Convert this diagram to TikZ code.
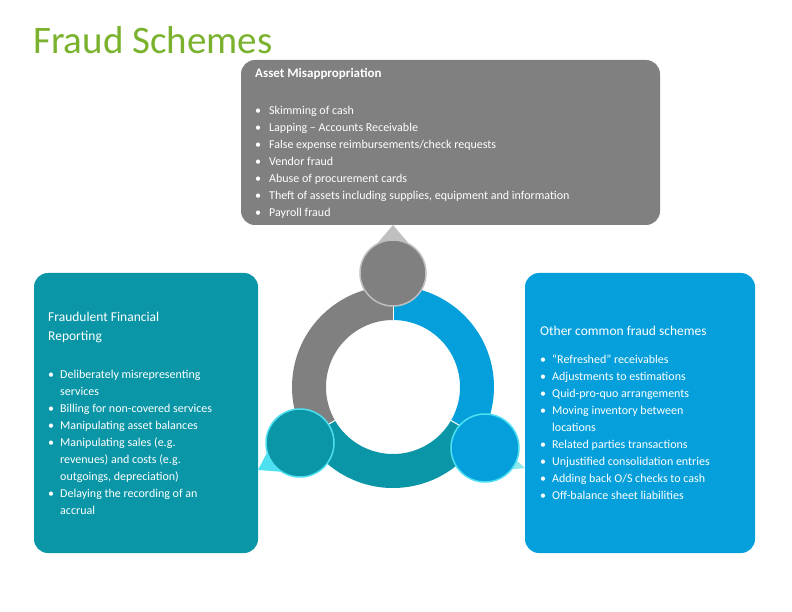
\documentclass[tikz,border=0pt]{standalone}
\usepackage{fontspec}
\setmainfont{Carlito}
\definecolor{cgray}{HTML}{808080}
\definecolor{lgray}{HTML}{BFBFBF}
\definecolor{cteal}{HTML}{0A96A6}
\definecolor{cblue}{HTML}{05A0DC}
\definecolor{ccyan}{HTML}{4DE0F0}
\definecolor{pcyan}{HTML}{8EE8EC}
\definecolor{cgreen}{HTML}{7AB22E}
\begin{document}
\begin{tikzpicture}[x=1pt,y=-1pt,
  box/.style={rounded corners=14pt},
  txt/.style={text=white,font=\fontsize{12}{17}\selectfont,align=left,anchor=north west,inner sep=0pt}]
\useasboundingbox (0,0) rectangle (792,612);
\node[anchor=west,text=cgreen,font=\fontsize{39}{44}\selectfont,inner sep=0pt] (title) at (33,40) {Fraud Schemes};
% boxes
\fill[cgray,box] (241,60) rectangle (660,225);
\fill[cteal,box] (34,273) rectangle (258,553);
\fill[cblue,box] (525,273) rectangle (755,553);
% pointers
\fill[lgray] (393,225) -- (365,258) -- (421,258) -- cycle;
\fill[ccyan] (258,470) -- (285,418) -- (312,474) -- cycle;
\fill[pcyan] (525,468) -- (470,420) -- (505,470) -- cycle;
% ring
\coordinate (c) at (393,387);
\fill[cgray] ([shift={(-90:101)}]c) arc[start angle=-90,end angle=-210,radius=101] -- ([shift={(-210:67)}]c) arc[start angle=-210,end angle=-90,radius=67] -- cycle;
\fill[cblue] ([shift={(-90:101)}]c) arc[start angle=-90,end angle=30,radius=101] -- ([shift={(30:67)}]c) arc[start angle=30,end angle=-90,radius=67] -- cycle;
\fill[cteal] ([shift={(30:101)}]c) arc[start angle=30,end angle=150,radius=101] -- ([shift={(150:67)}]c) arc[start angle=150,end angle=30,radius=67] -- cycle;
\draw[white,line width=1pt] ([shift={(-90:67)}]c) -- ([shift={(-90:101)}]c);
\draw[white,line width=1pt] ([shift={(150:67)}]c) -- ([shift={(150:101)}]c);
\draw[white,line width=1pt] ([shift={(30:67)}]c) -- ([shift={(30:101)}]c);
% circles
\node[circle,fill=cgray,draw=lgray,line width=1.5pt,minimum size=66pt] (ct) at (393,273) {};
\node[circle,fill=cteal,draw=ccyan,line width=1.5pt,minimum size=68pt] (cl) at (300,443) {};
\node[circle,fill=cblue,draw=ccyan,line width=1.5pt,minimum size=68pt] (cr) at (485,448) {};
% texts
\node[txt,font=\fontsize{13}{17}\bfseries\selectfont] (th) at (255,68) {Asset Misappropriation};
\node[txt] (tl) at (255,102) {\begin{tabular}{@{}l@{\hspace{8pt}}l@{}}
•&Skimming of cash\\ •&Lapping – Accounts Receivable\\ •&False expense reimbursements/check requests\\
•&Vendor fraud\\ •&Abuse of procurement cards\\ •&Theft of assets including supplies, equipment and information\\ •&Payroll fraud\end{tabular}};
\node[txt,font=\fontsize{13.5}{19}\selectfont] (lh) at (48,312) {Fraudulent Financial\\Reporting};
\node[txt] (ll) at (48,366) {\begin{tabular}{@{}l@{\hspace{6pt}}p{172pt}@{}}
•&Deliberately misrepresenting\newline services\\ •&Billing for non-covered services\\ •&Manipulating asset balances\\
•&Manipulating sales (e.g.\newline revenues) and costs (e.g.\newline outgoings, depreciation)\\ •&Delaying the recording of an\newline accrual\end{tabular}};
\node[txt,font=\fontsize{13.5}{17}\selectfont] (rh) at (540,326) {Other common fraud schemes};
\node[txt] (rl) at (540,351) {\begin{tabular}{@{}l@{\hspace{6pt}}p{190pt}@{}}
•&“Refreshed” receivables\\ •&Adjustments to estimations\\ •&Quid-pro-quo arrangements\\
•&Moving inventory between\newline locations\\ •&Related parties transactions\\ •&Unjustified consolidation entries\\ •&Adding back O/S checks to cash\\ •&Off-balance sheet liabilities\end{tabular}};
\end{tikzpicture}
\end{document}
